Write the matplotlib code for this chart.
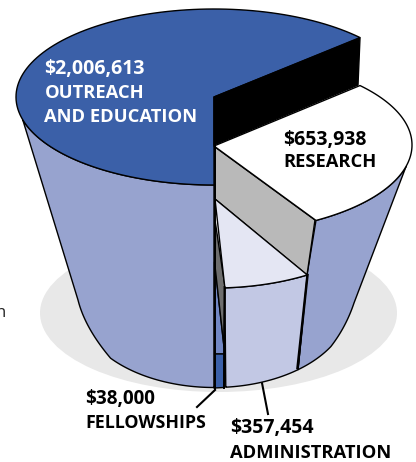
import numpy as np
import matplotlib
matplotlib.use('Agg')
import matplotlib.pyplot as plt
from matplotlib.patches import Ellipse, Polygon

# Budget figures shown on the chart
amounts = ['$2,006,613', '$653,938', '$357,454', '$38,000']
names = ['OUTREACH\nAND EDUCATION', 'RESEARCH', 'ADMINISTRATION', 'FELLOWSHIPS']

BLUE = '#3B60A8'
SIDE = '#97A3CF'
ADMIN_TOP = '#E4E6F3'
ADMIN_SIDE = '#C2C8E4'
WALL = '#B9B9B9'
DARK = '#6E6E6E'
STRIP = '#7388C4'
SHADOW = '#E8E8E8'
FONT = 'Open Sans'


def arc(cx, cy, rx, ry, a0, a1, n=120):
    # points along an ellipse, y axis points down
    t = np.radians(np.linspace(a0, a1, n))
    return np.column_stack([cx + rx * np.cos(t), cy - ry * np.sin(t)])


def corner(p0, p1, p2, n=30):
    # quadratic curve for the rounded foot of the body
    t = np.linspace(0, 1, n)[:, None]
    p0, p1, p2 = np.array(p0), np.array(p1), np.array(p2)
    return (1 - t) ** 2 * p0 + 2 * t * (1 - t) * p1 + t ** 2 * p2


def poly(ax, pts, color, lw=1.0, z=2):
    ax.add_patch(Polygon(pts, closed=True, facecolor=color, edgecolor='black',
                         linewidth=lw, joinstyle='round', zorder=z))


fig = plt.figure(figsize=(4.16, 4.62), dpi=100)
ax = fig.add_axes([0, 0, 1, 1])
ax.set_xlim(0, 416)
ax.set_ylim(462, 0)
ax.axis('off')

# shadow on the floor
ax.add_patch(Ellipse((218.5, 313), 357, 158, facecolor=SHADOW, edgecolor='none', zorder=1))

# left body under the big slice
bottom_left = arc(214, 305.5, 135, 82, 220, 270)
left_foot = corner((78, 300), (85, 328), tuple(bottom_left[0]))
left_top = arc(214, 97, 198, 88, 195, 270)
poly(ax, np.vstack([left_top, [[214, 388]], bottom_left[::-1], left_foot[::-1]]), SIDE)

# big slice on top
blue = arc(214, 97, 198, 88, 42.5, 270)
poly(ax, np.vstack([[[214, 97]], blue]), BLUE, z=3)
poly(ax, [(214, 97), (360, 38), (358, 85), (214, 145)], 'black', z=3)

# right body under the research slice
bottom_right = arc(214, 305.5, 135, 82, -51.5, -30)
right_foot = corner(tuple(bottom_right[-1]), (346, 327), (354, 303))
right_top = arc(214, 145, 198, 88, -59, -14)
poly(ax, np.vstack([right_top, right_foot[::-1], bottom_right[::-1], [[307, 275]]]), SIDE, z=2)

# research slice and its wall
research = arc(214, 145, 198, 88, 42.5, -59)
poly(ax, np.vstack([[[214, 146]], research]), 'white', z=4)
poly(ax, [(215, 147), (315, 220), (307, 275), (215, 199)], WALL, z=3)

# administration slice
admin_top = arc(214, 200, 178, 88, -58.4, -86.5)
poly(ax, np.vstack([[[215, 199]], admin_top]), ADMIN_TOP, z=4)
admin_bottom = arc(214, 305.5, 135, 82, -51.5, -85)
poly(ax, np.vstack([admin_top, admin_bottom[::-1]]), ADMIN_SIDE, z=3)
ax.plot([307.5, 297.5], [275, 368], color='black', lw=1.8, zorder=5)

# fellowships strip
poly(ax, [(214.5, 262), (224, 347), (224, 354), (214.5, 354)], STRIP, z=3)
poly(ax, [(214.5, 354), (224, 354), (224, 387.5), (214.5, 388)], BLUE, z=3)
poly(ax, [(215, 220), (225, 287), (224, 347), (215, 266)], DARK, z=3)
ax.plot([214.5, 214.5], [97, 389], color='black', lw=1.4, zorder=6)
ax.plot([224.5, 224], [287, 388], color='black', lw=1.4, zorder=6)

# leader lines
ax.plot([215, 197], [390, 407], color='black', lw=1.5, zorder=6)
ax.plot([262, 268], [383, 414], color='black', lw=1.5, zorder=1.5)

# labels
amount_style = dict(family=FONT, fontweight='bold', fontsize=14, va='baseline', zorder=8)
name_style = dict(family=FONT, fontweight='bold', fontsize=13.2, va='baseline', zorder=8)
ax.text(44.5, 74, amounts[0], color='white', **amount_style)
ax.text(44.5, 98.5, names[0].split('\n')[0], color='white', **name_style)
ax.text(44.5, 122.5, names[0].split('\n')[1], color='white', **name_style)
ax.text(283.5, 145, amounts[1], color='black', **amount_style)
ax.text(283.5, 167, names[1], color='black', **name_style)
ax.text(230.5, 433, amounts[2], color='black', **amount_style)
ax.text(230.5, 457.5, names[2], color='black', **name_style)
ax.text(85.5, 404, amounts[3], color='black', fontsize=13.6,
        **{k: v for k, v in amount_style.items() if k != 'fontsize'})
ax.text(85.5, 428, names[3], color='black', fontsize=12.8,
        **{k: v for k, v in name_style.items() if k != 'fontsize'})
ax.text(6, 317, 'n', family=FONT, fontsize=12, color='#222222', ha='right', va='baseline')

fig.savefig('out.png', dpi=100)
